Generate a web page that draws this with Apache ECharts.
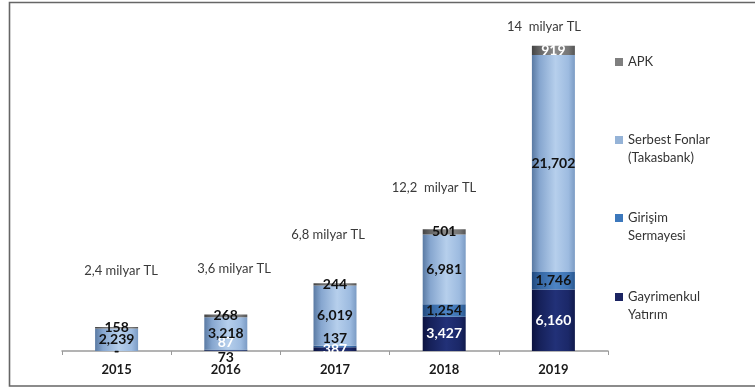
<!DOCTYPE html>
<html>
<head>
<meta charset="utf-8">
<script src="https://cdn.jsdelivr.net/npm/echarts@6/dist/echarts.min.js"></script>
<style>
  html, body { margin: 0; padding: 0; background: #fff; }
  #chart { width: 755px; height: 387px; }
</style>
</head>
<body>
<div id="chart"></div>
<script>
// Fund sizes by type (million TL), 2015–2019
const years = ['2015', '2016', '2017', '2018', '2019'];
const gayrimenkul = [0, 73, 387, 3427, 6160];
const girisim = [0, 87, 137, 1254, 1746];
const serbest = [2239, 3218, 6019, 6981, 21702];
const apk = [158, 268, 244, 501, 919];
const totalTexts = ['2,4 milyar TL', '3,6 milyar TL', '6,8 milyar TL', '12,2  milyar TL', '14  milyar TL'];

const seriesNames = {
  gyf: 'Gayrimenkul Yatırım',
  gsf: 'Girişim Sermayesi',
  sf: 'Serbest Fonlar (Takasbank)',
  apk: 'APK'
};

const FONT = 'Lato, "Open Sans", sans-serif';

function cyl(stops) {
  return {
    type: 'linear', x: 0, y: 0, x2: 1, y2: 0,
    colorStops: stops.map((c, i) => ({ offset: [0, 0.18, 0.55, 0.85, 1][i], color: c }))
  };
}

const fills = {
  gyf: cyl(['#0b1240', '#16215a', '#223178', '#1b2868', '#101a4c']),
  gsf: cyl(['#21497d', '#3566a2', '#4d84c4', '#3f74b3', '#2a5890']),
  sf: cyl(['#5a7aa3', '#86a6cf', '#b6cfec', '#9dbbe0', '#7b9bc4']),
  apk: cyl(['#444444', '#666666', '#8a8a8a', '#767676', '#555555'])
};

const swatch = {
  gyf: '#1b2462',
  gsf: '#3c78bc',
  sf: '#95b3d7',
  apk: '#7f7f7f'
};

// per-point label tweaks for thin segments
const labelTweaks = {
  gyf: { 1: { offset: [0, 7] } },
  gsf: { 1: { offset: [0, -7], color: '#fff' }, 2: { offset: [0, -8] } },
  sf: {},
  apk: { 4: { color: '#fff' } }
};
const labelColor = { gyf: '#fff', gsf: '#111', sf: '#111', apk: '#111' };
const darkLabelPoints = { gyf: [0, 1] };

function fmt(v) {
  return v === 0 ? '-' : v.toLocaleString('en-US');
}

function buildSeries(key, values) {
  return {
    name: seriesNames[key],
    type: 'bar',
    stack: 'total',
    barWidth: 43,
    itemStyle: { color: fills[key] },
    label: {
      show: true,
      position: 'inside',
      fontFamily: FONT,
      fontWeight: 'bold',
      fontSize: 14,
      color: labelColor[key],
      formatter: p => fmt(p.value)
    },
    data: values.map((v, i) => {
      const t = labelTweaks[key][i] || {};
      const lab = {};
      if (t.offset) lab.offset = t.offset;
      if (t.color) lab.color = t.color;
      if ((darkLabelPoints[key] || []).includes(i)) lab.color = '#111';
      return Object.keys(lab).length ? { value: v, label: lab } : v;
    })
  };
}

const legendKeys = ['apk', 'sf', 'gsf', 'gyf'];
const legendTops = { apk: 53, sf: 131, gsf: 209, gyf: 288 };
const legendText = {
  apk: 'APK',
  sf: 'Serbest Fonlar\n(Takasbank)',
  gsf: 'Girişim\nSermayesi',
  gyf: 'Gayrimenkul\nYatırım'
};
// square swatch sitting beside the first line of a two-line entry
const topSquare = 'path://M0,0L8,0L8,8L0,8Z M0,26L0.01,26L0.01,26.01Z';

const chart = echarts.init(document.getElementById('chart'), null, { renderer: 'canvas' });

const option = {
  backgroundColor: '#fff',
  animation: false,
  grid: { left: 62, right: 147, top: 1, bottom: 36 },
  xAxis: {
    type: 'category',
    data: years,
    axisLine: { lineStyle: { color: '#9a9a9a', width: 1.5 } },
    axisTick: { show: true, length: 4, lineStyle: { color: '#9a9a9a' } },
    axisLabel: {
      fontFamily: FONT, fontWeight: 'bold', fontSize: 13, color: '#1a1a1a', margin: 12
    }
  },
  yAxis: {
    type: 'value', min: 0, max: 35000, show: false,
    splitLine: { show: false }
  },
  legend: legendKeys.map(k => ({
    data: [{
      name: seriesNames[k],
      icon: k === 'apk' ? 'rect' : topSquare,
      itemStyle: { color: swatch[k] }
    }],
    left: 615,
    top: legendTops[k],
    padding: 0,
    orient: 'vertical',
    itemWidth: 8,
    itemHeight: k === 'apk' ? 8 : 26,
    itemGap: 0,
    selectedMode: false,
    formatter: () => legendText[k],
    textStyle: { fontFamily: FONT, fontSize: 13, color: '#333', lineHeight: 18 }
  })),
  series: [
    buildSeries('gyf', gayrimenkul),
    buildSeries('gsf', girisim),
    buildSeries('sf', serbest),
    buildSeries('apk', apk)
  ]
};

chart.setOption(option);

// Total-size annotations and the outer frame
const totalPos = [[121, 271], [234, 269], [328, 235], [434, 188], [544, 27]];
chart.setOption({
  graphic: [
    {
      type: 'rect',
      shape: { x: 9.5, y: 2.5, width: 760, height: 383.5 },
      style: { fill: 'none', stroke: '#666', lineWidth: 1.6 },
      silent: true
    }
  ].concat(totalTexts.map((t, i) => ({
    type: 'text',
    x: totalPos[i][0],
    y: totalPos[i][1],
    style: {
      text: t,
      fill: '#3a3a3a',
      font: '13px ' + FONT,
      align: 'center',
      verticalAlign: 'middle'
    },
    silent: true
  })))
});
</script>
</body>
</html>
